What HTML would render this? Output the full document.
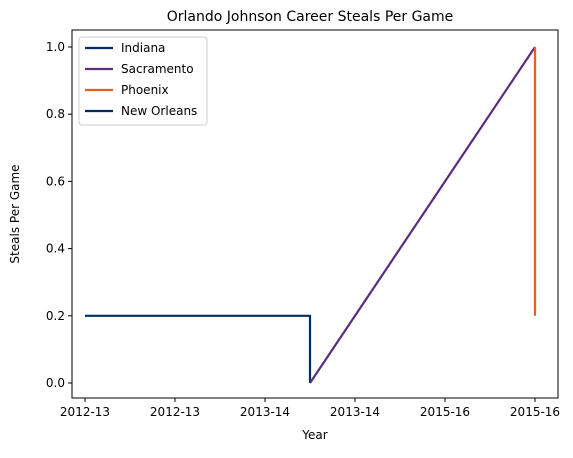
<!DOCTYPE html>
<html><head><meta charset="utf-8"><style>
body{margin:0;background:#fff;}
svg text{font-family:"DejaVu Sans","Liberation Sans",sans-serif;fill:#000;}
</style></head><body>
<svg id="chart" width="573" height="453" xmlns="http://www.w3.org/2000/svg">
<rect x="0" y="0" width="573" height="453" fill="#fff"/>
<text x="310" y="21" font-size="14" text-anchor="middle">Orlando Johnson Career Steals Per Game</text>
<g id="plot"></g>
<rect x="72" y="30" width="486" height="368" fill="none" stroke="#000" stroke-width="1"/>
<text x="315" y="439" font-size="12" text-anchor="middle">Year</text>
<text transform="translate(19,214) rotate(-90)" font-size="12" text-anchor="middle">Steals Per Game</text>
</svg>
<script>
const xTickLabels=["2012-13","2012-13","2013-14","2013-14","2015-16","2015-16"];
const yTicks=[0.0,0.2,0.4,0.6,0.8,1.0];
const seriesNames=["Indiana","Sacramento","Phoenix","New Orleans"];
const seriesColors=["#002d62","#5a2d81","#e56020","#002b5c"];
const indianaX=[0,2.5,2.5];
const indianaY=[0.2,0.2,0.0];
const sacramentoX=[2.5,5];
const sacramentoY=[0.0,1.0];
const phoenixX=[5,5];
const phoenixY=[1.0,0.2];
const newOrleansX=[0];
const newOrleansY=[0.2];

const xs=v=>85+v*90;
const ys=v=>383-v*336;
const NS="http://www.w3.org/2000/svg";
const plot=document.getElementById('plot');
function mk(t,a,p){const e=document.createElementNS(NS,t);for(const k in a)e.setAttribute(k,a[k]);(p||plot).appendChild(e);return e;}

xTickLabels.forEach((l,i)=>{
  const t=mk('line',{x1:xs(i),x2:xs(i),y1:398,y2:402,stroke:'#000'});
  
  
  const tx=mk('text',{x:xs(i),y:416,'font-size':12,'text-anchor':'middle'});
  tx.textContent=l;
  
  
});
yTicks.forEach(v=>{
  const t=mk('line',{x1:68,x2:72,y1:ys(v),y2:ys(v),stroke:'#000'});
  
  
  const tx=mk('text',{x:65,y:ys(v)+4,'font-size':12,'text-anchor':'end'});
  tx.textContent=v.toFixed(1);
  
  
});
const series=[[indianaX,indianaY],[sacramentoX,sacramentoY],[phoenixX,phoenixY],[newOrleansX,newOrleansY]];
series.forEach((s,i)=>{
  const pts=s[0].map((x,j)=>xs(x)+','+ys(s[1][j])).join(' ');
  const p=mk('polyline',{points:pts,fill:'none',stroke:seriesColors[i],'stroke-width':2.2});
  
  
});
const lg=mk('g',{});


mk('rect',{x:79,y:37,width:128,height:88,fill:'#fff',stroke:'#ccc',rx:3},lg);
seriesNames.forEach((n,i)=>{
  const y=48+i*21;
  const l=mk('line',{x1:85,x2:113,y1:y,y2:y,stroke:seriesColors[i],'stroke-width':2.2},lg);
  
  
  const t=mk('text',{x:121,y:y+4,'font-size':12},lg);
  t.textContent=n;
  
  
});
</script>
</body></html>
